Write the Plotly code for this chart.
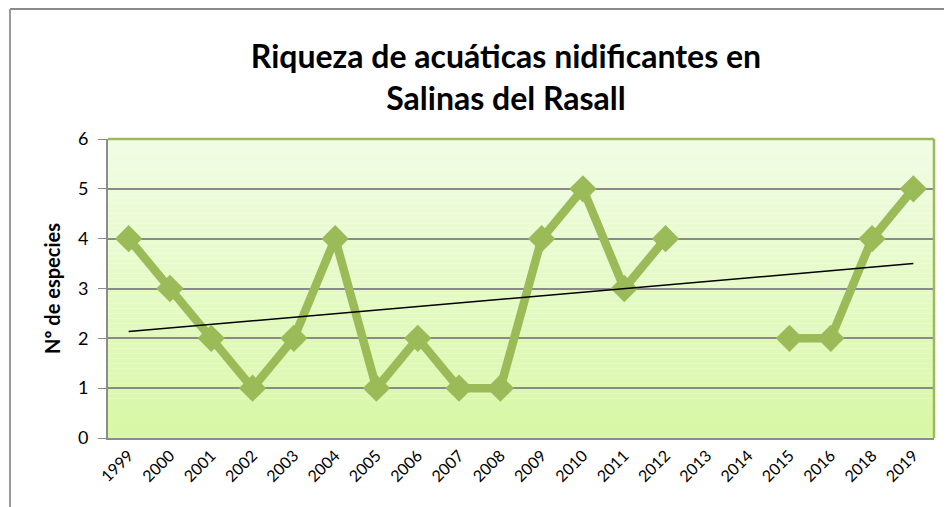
import numpy as np
import plotly.graph_objects as go

# years shown on the category axis (2017 is absent in the source chart)
years = ["1999", "2000", "2001", "2002", "2003", "2004", "2005", "2006",
         "2007", "2008", "2009", "2010", "2011", "2012", "2013", "2014",
         "2015", "2016", "2018", "2019"]
# nesting species counts, None where no census was made
species = [4, 3, 2, 1, 2, 4, 1, 2, 1, 1, 4, 5, 3, 4, None, None, 2, 2, 4, 5]
y_ticks = [0, 1, 2, 3, 4, 5, 6]

title = "<b>Riqueza de acuáticas nidificantes en<br>Salinas del Rasall</b>"
y_title = "<b>Nº de especies</b>"

green = "#9bbb59"
font = "Lato"

# linear trendline over category index, like the spreadsheet one
idx = np.arange(1, len(years) + 1)
known = np.array([v is not None for v in species])
vals = np.array([v if v is not None else np.nan for v in species], dtype=float)
slope, inter = np.polyfit(idx[known], vals[known], 1)
trend = slope * idx + inter

fig = go.Figure()

fig.add_trace(go.Scatter(x=years, y=species,
                         mode="lines+markers",
                         line=dict(color=green, width=8.5),
                         marker=dict(symbol="diamond", size=21, color=green),
                         connectgaps=False,
                         showlegend=False))

fig.add_trace(go.Scatter(x=years, y=trend,
                         mode="lines",
                         line=dict(color="black", width=1.5),
                         showlegend=False))

# the page body adds an 8px offset, so margins are set against it
ml, mt, mr, mb = 100, 131, 26, 77
pw = 952 - ml - mr
ph = 507 - mt - mb

# vertical gradient for the plot area, drawn as thin stripes
shapes = []
n = 60
top = np.array([242, 253, 230])
bot = np.array([216, 248, 166])
for i in range(n):
    c = top + (bot - top) * (i / (n - 1))
    shapes.append(dict(type="rect", xref="x domain", yref="y domain",
                       x0=0, x1=1, y0=1 - (i + 1) / n, y1=1 - i / n,
                       fillcolor="rgb(%d,%d,%d)" % tuple(c.astype(int)),
                       line=dict(width=0), layer="below"))

# green frame on top and right of plot area
shapes.append(dict(type="line", xref="x domain", yref="y domain",
                   x0=0, x1=1, y0=1, y1=1,
                   line=dict(color=green, width=2.5)))
shapes.append(dict(type="line", xref="x domain", yref="y domain",
                   x0=1, x1=1, y0=0, y1=1,
                   line=dict(color=green, width=2.5)))

# outer chart border (top and left are visible in the crop)
px0 = (2 - ml) / pw
py0 = (mt + ph - 1) / ph
shapes.append(dict(type="line", xref="paper", yref="paper",
                   x0=px0, x1=1.1, y0=py0, y1=py0,
                   line=dict(color="#8a8a8a", width=2)))
shapes.append(dict(type="line", xref="paper", yref="paper",
                   x0=px0, x1=px0, y0=-0.4, y1=py0,
                   line=dict(color="#9a9a9a", width=2)))

fig.update_layout(
    width=952, height=507,
    margin=dict(l=ml, r=mr, t=mt, b=mb),
    paper_bgcolor="white",
    plot_bgcolor="rgba(0,0,0,0)",
    font=dict(family=font, size=16, color="black"),
    title=dict(text=title, x=498 / 952, xanchor="center",
               y=1 - 60 / 507, yanchor="middle",
               font=dict(family=font, size=32, color="black")),
    shapes=shapes,
)

fig.update_xaxes(type="category", categoryorder="array", categoryarray=years,
                 range=[-0.5, len(years) - 0.5],
                 tickangle=-45, showgrid=False,
                 showline=True, linecolor="#8c8c8c", linewidth=2,
                 ticks="", tickfont=dict(size=16))

fig.update_yaxes(range=[0, 6], tickvals=y_ticks,
                 showgrid=True, gridcolor="#8a8a8a", gridwidth=1.5,
                 showline=True, linecolor="#8c8c8c", linewidth=2,
                 ticks="outside", ticklen=8, tickcolor="#8c8c8c",
                 ticklabelstandoff=6,
                 zeroline=False, tickfont=dict(size=18),
                 title=dict(text=y_title, font=dict(size=20), standoff=12))

fig.write_html("out.html")
